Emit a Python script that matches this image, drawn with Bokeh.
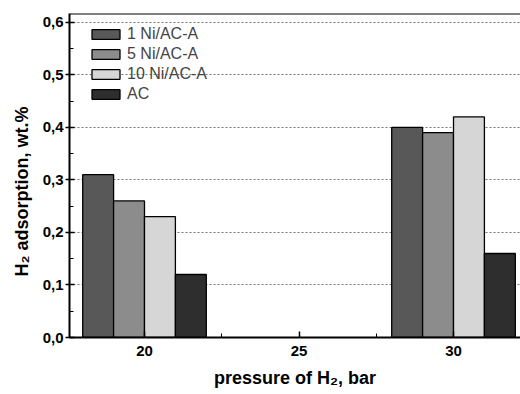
from bokeh.plotting import figure
from bokeh.models import Range1d, FixedTicker, Legend, LegendItem, Span, Title
from bokeh.embed import file_html
from bokeh.resources import INLINE

pressures = [20, 30]
series_names = ["1 Ni/AC-A", "5 Ni/AC-A", "10 Ni/AC-A", "AC"]
values_1ni = [0.31, 0.40]
values_5ni = [0.26, 0.39]
values_10ni = [0.23, 0.42]
values_ac = [0.12, 0.16]
series_values = [values_1ni, values_5ni, values_10ni, values_ac]
offsets = [-1.5, -0.5, 0.5, 1.5]
colors = ["#585858", "#8c8c8c", "#d6d6d6", "#2e2e2e"]

y_ticks = [0.0, 0.1, 0.2, 0.3, 0.4, 0.5, 0.6]
x_ticks = [20, 25, 30]

X0, X1 = 17.573, 32.168
Y0, Y1 = 0.0, 0.617

p = figure(width=520, height=394, output_backend="svg", toolbar_location=None,
           x_range=Range1d(X0, X1), y_range=Range1d(Y0, Y1),
           min_border_left=69, min_border_right=0, min_border_top=13, min_border_bottom=55)

font = "Liberation Sans"
renderers = []
for name, vals, off, col in zip(series_names, series_values, offsets, colors):
    r = p.vbar(x=[x + off for x in pressures], top=vals, width=1.0, bottom=0,
               fill_color=col, line_color="black", line_width=1.3)
    renderers.append((name, r))

legend = Legend(items=[LegendItem(label=n, renderers=[r]) for n, r in renderers],
                location=(19, 233), margin=0, padding=5, spacing=0,
                glyph_width=35, glyph_height=12, label_height=20, label_standoff=4,
                label_text_font=font, label_text_font_size="16px",
                border_line_color=None, background_fill_alpha=0)
p.add_layout(legend)

p.xgrid.visible = False
p.ygrid.grid_line_color = "#777777"
p.ygrid.grid_line_dash = "2 2"
p.ygrid.grid_line_width = 1
p.ygrid.ticker = FixedTicker(ticks=y_ticks[1:])

p.outline_line_color = None
p.add_layout(Span(location=Y1, dimension="width", line_color="black", line_width=2))

p.yaxis.ticker = FixedTicker(ticks=y_ticks, minor_ticks=[0.05 + 0.1 * i for i in range(6)])
p.yaxis.major_label_overrides = {t: f"{t:.1f}".replace(".", ",") for t in y_ticks}
p.xaxis.ticker = FixedTicker(ticks=x_ticks, minor_ticks=[22.5, 27.5])

for ax in (p.xaxis, p.yaxis):
    ax.axis_line_width = 2
    ax.axis_line_color = "black"
    ax.major_tick_line_color = "black"
    ax.minor_tick_line_color = "black"
    ax.major_tick_line_width = 1.5
    ax.major_label_text_font = font
    ax.major_label_text_font_style = "bold"
    ax.major_label_text_font_size = "15px"
    ax.major_label_text_color = "black"

p.yaxis.major_tick_in = 5
p.yaxis.major_tick_out = 4
p.yaxis.minor_tick_in = 4
p.yaxis.minor_tick_out = 0
p.yaxis.major_label_standoff = 2

p.xaxis.major_tick_in = 6
p.xaxis.major_tick_out = 0
p.xaxis.minor_tick_in = 4
p.xaxis.minor_tick_out = 0
p.xaxis.major_label_standoff = 8

y_title = Title(text="H₂ adsorption, wt.%", align="left", offset=61, standoff=16,
                text_font=font, text_font_style="bold", text_font_size="18px",
                text_color="black")
p.add_layout(y_title, "left")

x_title = Title(text="pressure of H₂, bar", align="center", standoff=14,
                text_font=font, text_font_style="bold", text_font_size="18px",
                text_color="black")
p.add_layout(x_title, "below")

open("out.html", "w").write(file_html(p, INLINE))
